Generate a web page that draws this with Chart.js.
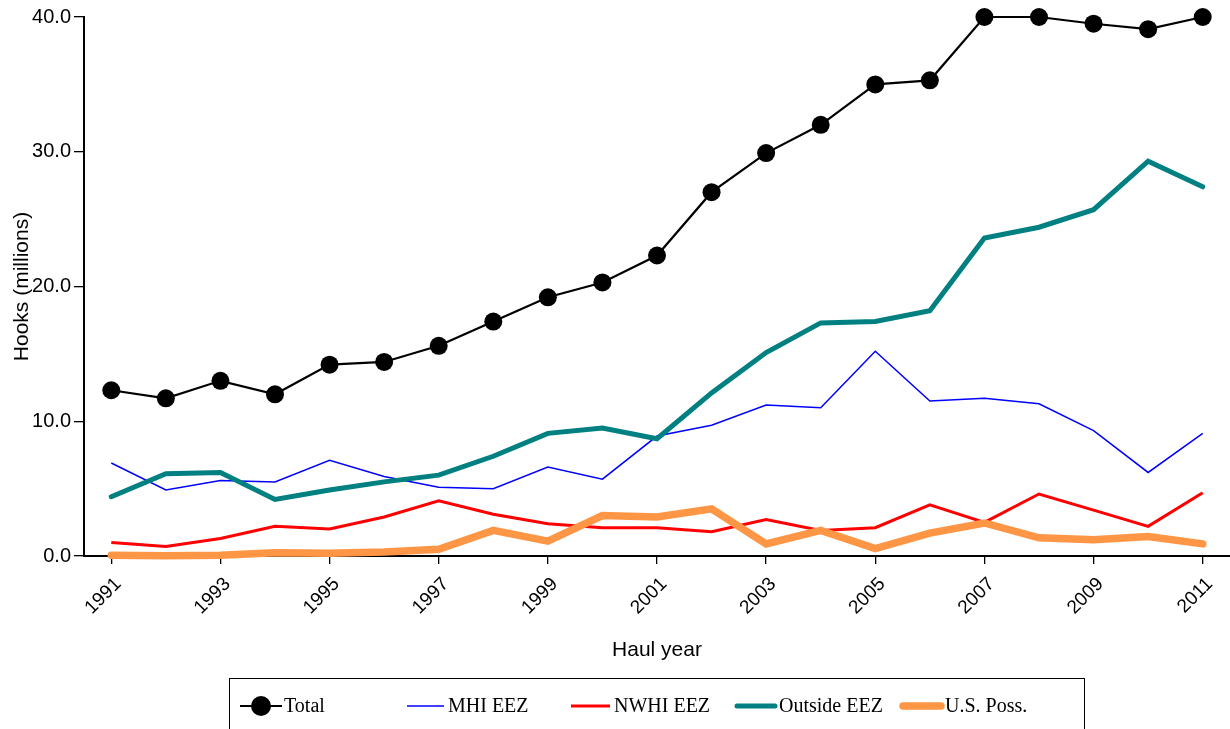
<!DOCTYPE html>
<html>
<head>
<meta charset="utf-8">
<script src="https://cdn.jsdelivr.net/npm/chart.js@4/dist/chart.umd.min.js"></script>
<style>
  html, body { margin: 0; padding: 0; background: #fff; }
  #wrap { width: 1230px; height: 729px; position: relative; }
</style>
</head>
<body>
<div id="wrap"><canvas id="c" width="1230" height="729"></canvas></div>
<script>
// ---- data ----
const years = ['1991','1992','1993','1994','1995','1996','1997','1998','1999','2000',
               '2001','2002','2003','2004','2005','2006','2007','2008','2009','2010','2011'];
const seriesNames = ['Total', 'MHI EEZ', 'NWHI EEZ', 'Outside EEZ', 'U.S. Poss.'];
const total   = [12.3, 11.7, 13.0, 12.0, 14.2, 14.4, 15.6, 17.4, 19.2, 20.3, 22.3, 27.0, 29.9, 32.0, 35.0, 35.3, 40.0, 40.0, 39.5, 39.1, 40.0];
const mhiEEZ  = [6.9, 4.9, 5.6, 5.5, 7.1, 5.9, 5.1, 5.0, 6.6, 5.7, 8.9, 9.7, 11.2, 11.0, 15.2, 11.5, 11.7, 11.3, 9.3, 6.2, 9.1];
const nwhiEEZ = [1.0, 0.7, 1.3, 2.2, 2.0, 2.9, 4.1, 3.1, 2.4, 2.1, 2.1, 1.8, 2.7, 1.9, 2.1, 3.8, 2.5, 4.6, 3.4, 2.2, 4.7];
const outsideEEZ = [4.4, 6.1, 6.2, 4.2, 4.9, 5.5, 6.0, 7.4, 9.1, 9.5, 8.7, 12.1, 15.1, 17.3, 17.4, 18.2, 23.6, 24.4, 25.7, 29.3, 27.4];
const usPoss  = [0.05, 0.02, 0.05, 0.25, 0.2, 0.3, 0.5, 1.9, 1.1, 3.0, 2.9, 3.5, 0.9, 1.9, 0.55, 1.7, 2.45, 1.35, 1.2, 1.45, 0.9];
const yTicks = [0, 10, 20, 30, 40];
const xTitle = 'Haul year';
const yTitle = 'Hooks (millions)';

// ---- custom legend (boxed, serif) ----
const legendSlots = [
  { sym: 240, len: 42, text: 284 },
  { sym: 407, len: 37, text: 448 },
  { sym: 571, len: 39, text: 614 },
  { sym: 737, len: 38, text: 779 },
  { sym: 903, len: 38, text: 945 }
];
const boxLegend = {
  id: 'boxLegend',
  afterDraw(chart) {
    const ctx = chart.ctx;
    ctx.save();
    ctx.strokeStyle = '#000';
    ctx.lineWidth = 1;
    ctx.strokeRect(229.5, 678.5, 855, 80);
    const y = 706;
    chart.data.datasets.forEach((ds, i) => {
      const s = legendSlots[i];
      ctx.strokeStyle = ds.borderColor;
      ctx.lineWidth = ds.borderWidth;
      ctx.lineCap = ds.borderWidth > 3 ? 'round' : 'butt';
      ctx.beginPath();
      ctx.moveTo(s.sym, y);
      ctx.lineTo(s.sym + s.len, y);
      ctx.stroke();
      if (ds.pointRadius > 0) {
        ctx.fillStyle = ds.pointBackgroundColor;
        ctx.beginPath();
        ctx.arc(s.sym + s.len / 2, y, 10, 0, Math.PI * 2);
        ctx.fill();
      }
      ctx.fillStyle = '#000';
      ctx.font = '20px "Liberation Serif", "Times New Roman", serif';
      ctx.textBaseline = 'middle';
      ctx.textAlign = 'left';
      ctx.fillText(ds.label, s.text, y + 1);
    });
    ctx.restore();
  }
};

const sans = '"Liberation Sans", Arial, sans-serif';

new Chart(document.getElementById('c'), {
  type: 'line',
  data: {
    labels: years,
    datasets: [
      { label: seriesNames[0], data: total, borderColor: '#000000', backgroundColor: '#000000',
        borderWidth: 2.2, pointRadius: 9, pointBackgroundColor: '#000000', pointBorderWidth: 0,
        pointHoverRadius: 9, clip: false, order: 0, tension: 0 },
      { label: seriesNames[1], data: mhiEEZ, borderColor: '#0000ff', borderWidth: 1.5,
        pointRadius: 0, clip: false, order: 4, tension: 0 },
      { label: seriesNames[2], data: nwhiEEZ, borderColor: '#ff0000', borderWidth: 3,
        pointRadius: 0, clip: false, order: 3, tension: 0 },
      { label: seriesNames[3], data: outsideEEZ, borderColor: '#008080', borderWidth: 5,
        pointRadius: 0, clip: false, order: 2, tension: 0, borderCapStyle: 'round' },
      { label: seriesNames[4], data: usPoss, borderColor: '#ff9646', borderWidth: 7.5,
        pointRadius: 0, clip: false, order: 1, tension: 0, borderCapStyle: 'round' }
    ]
  },
  options: {
    responsive: false,
    animation: false,
    devicePixelRatio: 1,
    layout: { autoPadding: false, padding: { top: 17, bottom: 66, left: 0, right: 0 } },
    plugins: { legend: { display: false }, tooltip: { enabled: false } },
    scales: {
      x: {
        type: 'category',
        offset: true,
        border: { display: true, color: '#000', width: 2 },
        grid: {
          drawOnChartArea: false, drawTicks: true, tickLength: 8,
          color: (c) => (c.index % 2 === 0 ? '#000' : 'rgba(0,0,0,0)'),
          lineWidth: 1.3
        },
        ticks: {
          autoSkip: false, maxRotation: 45, minRotation: 45, color: '#000',
          padding: 9, labelOffset: 7,
          font: { family: sans, size: 19 },
          callback: function (v, i) { return i % 2 === 0 ? this.getLabelForValue(v) : ''; }
        },
        title: {
          display: true, text: xTitle, color: '#000',
          font: { family: sans, size: 21 },
          padding: { top: 4, bottom: 0 }
        },
        afterFit: (s) => { s.height = 107; s.paddingLeft = 0; s.paddingRight = 0; }
      },
      y: {
        min: 0, max: 40,
        afterBuildTicks: (s) => { s.ticks = yTicks.map(v => ({ value: v })); },
        border: { display: true, color: '#000', width: 2 },
        grid: { drawOnChartArea: false, drawTicks: true, tickLength: 10, color: '#000', lineWidth: 1.3 },
        ticks: {
          color: '#000', padding: 3, font: { family: sans, size: 20 },
          callback: (v) => Number(v).toFixed(1)
        },
        title: {
          display: true, text: yTitle, color: '#000',
          font: { family: sans, size: 21 },
          padding: { top: 10, bottom: 0 }
        },
        afterFit: (s) => { s.width = 84; }
      }
    }
  },
  plugins: [boxLegend]
});
</script>
</body>
</html>
